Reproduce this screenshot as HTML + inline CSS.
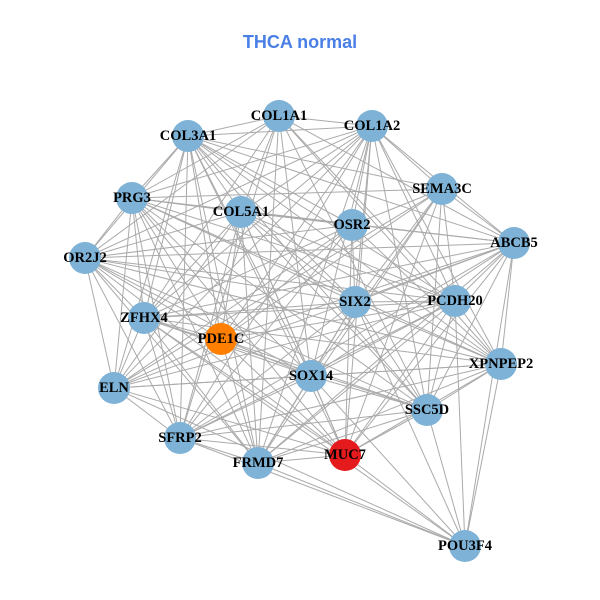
<!DOCTYPE html>
<html><head><meta charset="utf-8"><style>
html,body{margin:0;padding:0;background:#fff;}
svg{display:block;}
.l{font-family:"Liberation Serif",serif;font-weight:bold;font-size:14.5px;fill:#000;text-anchor:middle;dominant-baseline:central;}
</style></head><body>
<svg id="s" width="600" height="600" viewBox="0 0 600 600">
<rect width="600" height="600" fill="#fff"/>
<text x="300" y="42" text-anchor="middle" dominant-baseline="central" font-family="Liberation Sans, sans-serif" font-weight="bold" font-size="18" fill="#4a7fe6">THCA normal</text>
<g id="e" stroke="#aaaaaa" stroke-width="1"></g>
<g id="n"></g>
<g>
<text class="l" x="279" y="116">COL1A1</text>
<text class="l" x="372" y="126">COL1A2</text>
<text class="l" x="188" y="136">COL3A1</text>
<text class="l" x="442" y="189">SEMA3C</text>
<text class="l" x="132" y="198">PRG3</text>
<text class="l" x="241" y="212">COL5A1</text>
<text class="l" x="352" y="225">OSR2</text>
<text class="l" x="514" y="243">ABCB5</text>
<text class="l" x="85" y="258">OR2J2</text>
<text class="l" x="355" y="302">SIX2</text>
<text class="l" x="455" y="301">PCDH20</text>
<text class="l" x="144" y="318">ZFHX4</text>
<text class="l" x="221" y="339">PDE1C</text>
<text class="l" x="311" y="376">SOX14</text>
<text class="l" x="501" y="364">XPNPEP2</text>
<text class="l" x="114" y="388">ELN</text>
<text class="l" x="427" y="410">SSC5D</text>
<text class="l" x="180" y="438">SFRP2</text>
<text class="l" x="345" y="455">MUC7</text>
<text class="l" x="258" y="463">FRMD7</text>
<text class="l" x="465" y="546">POU3F4</text>
</g>
</svg>
<script>
var P=[[279,116],[372,126],[188,136],[442,189],[132,198],[241,212],[352,225],[514,243],[85,258],[355,302],[455,301],[144,318],[221,339],[311,376],[501,364],[114,388],[427,410],[180,438],[345,455],[258,463],[465,546]];
var C={12:"#ff7f00",18:"#e41a1c"};
var ns="http://www.w3.org/2000/svg",e=document.getElementById("e"),n=document.getElementById("n");
for(var i=0;i<P.length;i++)for(var j=i+1;j<P.length;j++){
 if((i*7+j*3)%9==0)continue;
 if(j==20&&[0,1,2,4,5,6,8].indexOf(i)>=0)continue;
 var l=document.createElementNS(ns,"line");
 l.setAttribute("x1",P[i][0]);l.setAttribute("y1",P[i][1]);l.setAttribute("x2",P[j][0]);l.setAttribute("y2",P[j][1]);e.appendChild(l);}
for(var i=0;i<P.length;i++){var c=document.createElementNS(ns,"circle");
 c.setAttribute("cx",P[i][0]);c.setAttribute("cy",P[i][1]);c.setAttribute("r",16);c.setAttribute("fill",C[i]||"#7eb2d6");n.appendChild(c);}
</script>
</body></html>
